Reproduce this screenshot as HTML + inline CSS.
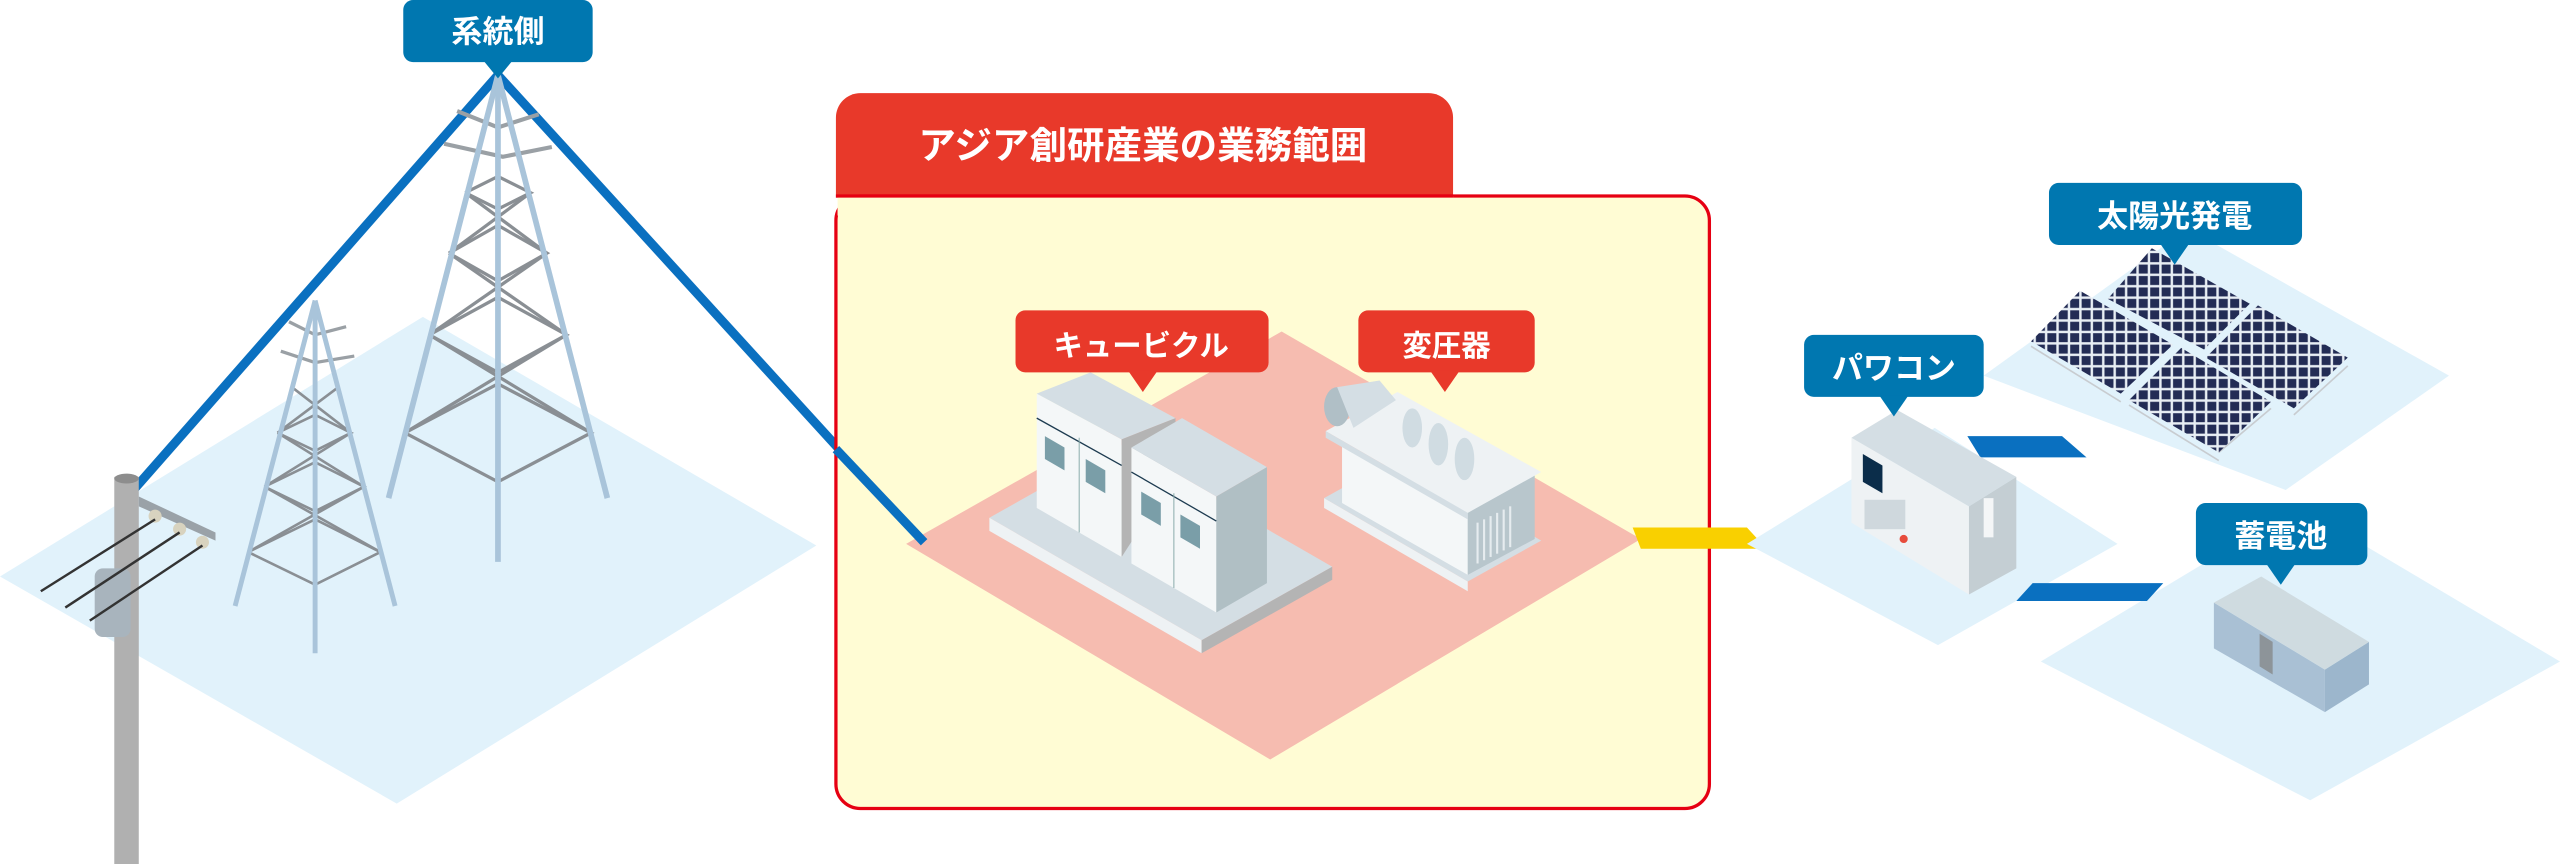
<!DOCTYPE html>
<html><head><meta charset="utf-8"><style>
html,body{margin:0;padding:0;background:#fff;}
svg{display:block}
text{font-family:"Liberation Sans","Noto Sans CJK JP",sans-serif;fill:#fff;font-weight:bold;text-anchor:middle}
</style></head><body>
<svg width="2560" height="864" viewBox="0 0 1568 529" preserveAspectRatio="none" xmlns="http://www.w3.org/2000/svg">
<polygon points="0,353 259,194 500,334 243,492" fill="#e1f2fb"/>
<line x1="305" y1="46" x2="80" y2="302" stroke="#0a70c0" stroke-width="5.5"/>
<line x1="305" y1="46" x2="566" y2="332" stroke="#0a70c0" stroke-width="5.5"/>
<g fill="none" stroke="#8a8f94" stroke-width="2">
<polyline points="248,265 305,295 362,265 305,235 248,265"/>
<polyline points="263,205 305,228 347,205 305,182 263,205"/>
<polyline points="275,155 305,172 335,155 305,138 275,155"/>
<polyline points="285,118 305,128 325,118 305,108 285,118"/>
<line x1="248" y1="265" x2="347" y2="205"/><line x1="362" y1="265" x2="263" y2="205"/>
<line x1="263" y1="205" x2="335" y2="155"/><line x1="347" y1="205" x2="275" y2="155"/>
<line x1="275" y1="155" x2="325" y2="118"/><line x1="335" y1="155" x2="285" y2="118"/>
<polyline points="280,68 305,78 330,70 M292,62 320,68" stroke="#9aa0a5" stroke-width="2.5"/>
<polyline points="272,88 308,96 338,90 M285,82 322,86" stroke="#9aa0a5" stroke-width="2.5"/>
</g>
<g stroke="#a9c4da" stroke-width="3.5" fill="none">
<line x1="305" y1="46" x2="238" y2="305"/><line x1="305" y1="46" x2="372" y2="305"/><line x1="305" y1="46" x2="305" y2="344"/>
</g>
<g fill="none" stroke="#8a8f94" stroke-width="1.6">
<polyline points="152,338 193,358 233,338 193,318 152,338"/>
<polyline points="162,298 193,313 223,298 193,283 162,298"/>
<polyline points="170,265 193,276 215,265 193,254 170,265"/>
<line x1="152" y1="338" x2="223" y2="298"/><line x1="233" y1="338" x2="162" y2="298"/>
<line x1="162" y1="298" x2="215" y2="265"/><line x1="223" y1="298" x2="170" y2="265"/>
<line x1="170" y1="265" x2="206" y2="238"/><line x1="215" y1="265" x2="180" y2="238"/>
<polyline points="177,197 193,205 212,200 M182,192 205,196" stroke="#9aa0a5" stroke-width="2"/>
<polyline points="172,215 193,222 217,218 M178,210 208,214" stroke="#9aa0a5" stroke-width="2"/>
</g>
<g stroke="#a9c4da" stroke-width="3" fill="none">
<line x1="193" y1="184" x2="144" y2="371"/><line x1="193" y1="184" x2="242" y2="371"/><line x1="193" y1="184" x2="193" y2="400"/>
</g>
<rect x="70" y="292" width="15" height="237" fill="#b0b0b0"/>
<ellipse cx="77.5" cy="293" rx="7.5" ry="3" fill="#8d8d8d"/>
<polygon points="85,304 132,326 132,331 85,310" fill="#9aa2a8"/>
<circle cx="95" cy="316" r="4" fill="#d8d3bf"/><circle cx="110" cy="324" r="4" fill="#d8d3bf"/><circle cx="124" cy="332" r="4" fill="#d8d3bf"/>
<rect x="58" y="348" width="22" height="42" rx="5" fill="#a8b4bd"/>
<g stroke="#333" stroke-width="1.5"><line x1="25" y1="362" x2="95" y2="318"/><line x1="40" y1="372" x2="110" y2="326"/><line x1="55" y1="380" x2="124" y2="334"/></g>
<rect x="247" y="0" width="116" height="38" rx="6" fill="#0077b0"/>
<polygon points="296,37 314,37 305,48" fill="#0077b0"/>
<text x="305" y="26" font-size="19">系統側</text>
<path d="M512,72 a15,15 0 0 1 15,-15 H875 a15,15 0 0 1 15,15 V121 H512 Z" fill="#e8392a"/>
<text x="700" y="97" font-size="23">アジア創研産業の業務範囲</text>
<rect x="512" y="120" width="535" height="375" rx="15" fill="#fffcd4" stroke="#e60012" stroke-width="2"/>
<rect x="513" y="120" width="377" height="12" fill="#fffcd4"/>
<line x1="512" y1="120" x2="890" y2="120" stroke="#e60012" stroke-width="2"/>
<polygon points="555,333 785,203 1005,330 778,465" fill="#f6bcb0"/>
<line x1="512" y1="275" x2="566" y2="332" stroke="#0a70c0" stroke-width="5.5"/>
<!-- cubicle -->
<polygon points="606,317 736,392 816,347 686,272" fill="#d4dee4"/>
<polygon points="606,317 736,392 736,400 606,325" fill="#eef2f4"/>
<polygon points="736,392 816,347 816,355 736,400" fill="#b4b4b4"/>
<polygon points="635,241 687,269 687,341 635,311" fill="#f4f7f8"/>
<polygon points="635,241 668,228 720,256 687,269" fill="#d4dee4"/>
<polygon points="687,269 720,256 720,290 687,341" fill="#b4b4b4"/>
<polygon points="693,274 745,304 745,375 693,345" fill="#f4f7f8"/>
<polygon points="693,274 724,256 776,286 745,304" fill="#d4dee4"/>
<polygon points="745,304 776,286 776,357 745,375" fill="#b0bfc4"/>
<line x1="635" y1="256" x2="687" y2="285" stroke="#1d3b50" stroke-width="0.8"/>
<line x1="693" y1="289" x2="745" y2="319" stroke="#1d3b50" stroke-width="0.8"/>
<line x1="661" y1="268" x2="661" y2="326" stroke="#8aa" stroke-width="0.6"/>
<line x1="719" y1="302" x2="719" y2="360" stroke="#8aa" stroke-width="0.6"/>
<polygon points="640,267 652,274 652,288 640,281" fill="#7a9ea8"/>
<polygon points="665,281 677,288 677,302 665,295" fill="#7a9ea8"/>
<polygon points="699,301 711,308 711,322 699,315" fill="#7a9ea8"/>
<polygon points="723,315 735,322 735,336 723,329" fill="#7a9ea8"/>
<!-- transformer -->
<polygon points="811,305 899,356 944,331 856,280" fill="#d4dee4"/>
<polygon points="811,305 899,356 899,362 811,311" fill="#eef2f4"/>
<polygon points="822,270 899,314 899,352 822,308" fill="#f4f7f8"/>
<polygon points="899,314 940,290 940,330 899,352" fill="#b8c6cc"/>
<polygon points="812,264 856,240 944,289 899,314" fill="#eef2f4"/>
<polygon points="812,264 899,314 899,318 812,268" fill="#d4dee4"/>
<ellipse cx="819" cy="249" rx="8" ry="12" fill="#b0bfc6"/>
<polygon points="819,237 845,233 855,245 829,262" fill="#d4dee4"/>
<g fill="#d0dce2"><ellipse cx="865" cy="262" rx="6" ry="12"/><ellipse cx="881" cy="272" rx="6" ry="13"/><ellipse cx="897" cy="281" rx="6" ry="13"/></g>
<g stroke="#e6ecef" stroke-width="1.3"><line x1="905" y1="320" x2="905" y2="345"/><line x1="909" y1="318" x2="909" y2="343"/><line x1="913" y1="316" x2="913" y2="341"/><line x1="917" y1="314" x2="917" y2="339"/><line x1="921" y1="312" x2="921" y2="337"/><line x1="925" y1="310" x2="925" y2="335"/></g>
<rect x="622" y="190" width="155" height="38" rx="6" fill="#e8392a"/>
<polygon points="691,227 709,227 700,240" fill="#e8392a"/>
<text x="699" y="218" font-size="18">キュービクル</text>
<rect x="832" y="190" width="108" height="38" rx="6" fill="#e8392a"/>
<polygon points="876,227 894,227 885,240" fill="#e8392a"/>
<text x="886" y="218" font-size="18">変圧器</text>
<polygon points="1000,323 1070,323 1082,336 1005,336" fill="#f9d000"/>
<polygon points="1215,230 1340,140 1500,230 1400,300" fill="#e1f2fb"/>
<polygon points="1070,333 1185,262 1297,333 1187,395" fill="#e1f2fb"/>
<polygon points="1250,405 1408,310 1568,405 1415,490" fill="#e1f2fb"/>
<polygon points="1205,267 1263,267 1278,280 1213,280" fill="#0a70c0"/>
<polygon points="1245,357 1325,357 1315,368 1235,368" fill="#0a70c0"/>
<defs><pattern id="sp" width="7" height="7" patternUnits="userSpaceOnUse"><rect width="7" height="7" fill="#e8eef4"/><rect x="1" y="1" width="5.5" height="5.5" fill="#232c55"/></pattern></defs>
<g stroke="#c8ccd0" stroke-width="1"><line x1="1244" y1="212" x2="1299" y2="246"/><line x1="1304" y1="248" x2="1359" y2="282"/><line x1="1405" y1="254" x2="1438" y2="224"/><line x1="1359" y1="277" x2="1391" y2="250"/></g>
<polygon points="1244,209 1274,178 1331,211 1299,241" fill="url(#sp)"/>
<polygon points="1291,183 1318,152 1378,186 1350,214" fill="url(#sp)"/>
<polygon points="1351,219 1383,187 1438,219 1405,250" fill="url(#sp)"/>
<polygon points="1304,245 1336,213 1391,246 1359,277" fill="url(#sp)"/>
<!-- pawcon -->
<polygon points="1134,268 1206,310 1206,364 1134,320" fill="#eef2f4"/>
<polygon points="1206,310 1235,292 1235,348 1206,364" fill="#c4ced3"/>
<polygon points="1134,268 1162,251 1235,292 1206,310" fill="#d4dee4"/>
<polygon points="1141,278 1153,285 1153,302 1141,295" fill="#0b2d4a"/>
<rect x="1142" y="306" width="25" height="18" fill="#cfd8dd"/>
<circle cx="1166" cy="330" r="2.5" fill="#e74c3c"/>
<rect x="1215" y="305" width="6" height="24" fill="#f4f6f7"/>
<!-- battery -->
<polygon points="1356,369 1424,410 1424,436 1356,397" fill="#a9c0d4"/>
<polygon points="1424,410 1451,393 1451,419 1424,436" fill="#9cb6cc"/>
<polygon points="1356,369 1385,353 1451,393 1424,410" fill="#cfdbe0"/>
<polygon points="1384,388 1392,393 1392,413 1384,408" fill="#8d9499"/>
<rect x="1105" y="205" width="110" height="38" rx="6" fill="#0077b0"/>
<polygon points="1151,242 1169,242 1160,255" fill="#0077b0"/>
<text x="1160" y="232" font-size="19">パワコン</text>
<rect x="1255" y="112" width="155" height="38" rx="6" fill="#0077b0"/>
<polygon points="1323,149 1341,149 1332,162" fill="#0077b0"/>
<text x="1332" y="139" font-size="19">太陽光発電</text>
<rect x="1345" y="308" width="105" height="38" rx="6" fill="#0077b0"/>
<polygon points="1388,345 1406,345 1397,358" fill="#0077b0"/>
<text x="1397" y="335" font-size="19">蓄電池</text>
</svg>
</body></html>
